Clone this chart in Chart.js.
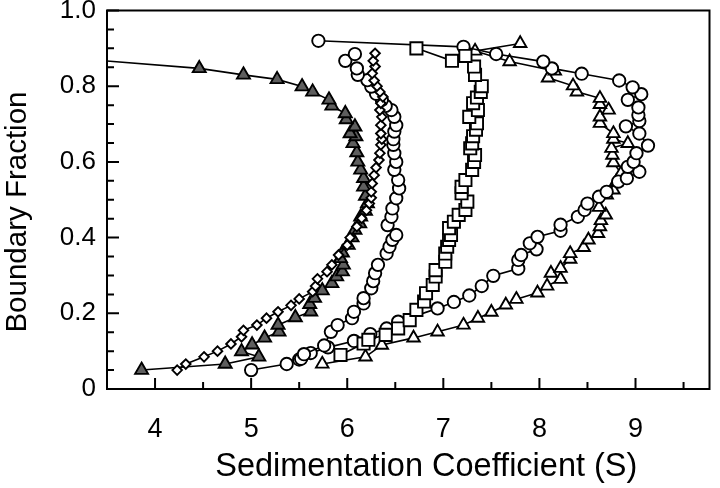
<!DOCTYPE html>
<html><head><meta charset="utf-8">
<script src="https://cdn.jsdelivr.net/npm/chart.js@4/dist/chart.umd.min.js"></script>
<style>html,body{margin:0;padding:0;background:#fff}#c{display:block}</style>
</head><body>
<canvas id="c" width="720" height="488"></canvas>
<script>
// Tick values
const xMajorTicks = [4, 5, 6, 7, 8, 9];
const xMinorTicks = [4.5, 5.5, 6.5, 7.5, 8.5, 9.5];
const yMajorTicks = [0, 0.2, 0.4, 0.6, 0.8, 1.0];
const yMinorTicks = [0.05, 0.1, 0.15, 0.25, 0.3, 0.35, 0.45, 0.5, 0.55, 0.65, 0.7, 0.75, 0.85, 0.9, 0.95];

// Series: filled gray triangles
const fillTriX = [3.86,4.73,5.08,4.90,5.01,5.14,5.29,5.28,5.46,5.62,5.61,5.66,5.74,5.84,5.89,5.95,5.96,5.93,5.95,6.01,6.05,6.08,6.13,6.14,6.19,6.21,6.19,6.17,6.17,6.14,6.11,6.10,6.06,6.09,6.03,6.08,5.99,5.98,5.84,5.81,5.64,5.53,5.27,4.92,4.46,3.00];
const fillTriY = [0.05,0.066,0.085,0.099,0.117,0.135,0.151,0.169,0.189,0.204,0.224,0.24,0.26,0.279,0.297,0.31,0.328,0.345,0.36,0.38,0.40,0.42,0.437,0.455,0.47,0.49,0.51,0.534,0.557,0.579,0.60,0.625,0.649,0.667,0.675,0.693,0.712,0.728,0.748,0.764,0.785,0.799,0.818,0.83,0.847,0.877];

// Series: open diamonds
const diamondX = [4.23,4.32,4.51,4.65,4.79,4.90,4.92,5.06,5.16,5.28,5.415,5.50,5.64,5.67,5.69,5.79,5.84,5.91,6.00,6.03,6.10,6.15,6.20,6.23,6.25,6.25,6.26,6.28,6.30,6.33,6.34,6.35,6.36,6.35,6.35,6.36,6.34,6.35,6.37,6.34,6.31,6.28,6.26,6.29,6.27,6.29];
const diamondY = [0.05,0.066,0.085,0.10,0.119,0.138,0.155,0.169,0.187,0.204,0.221,0.238,0.257,0.272,0.291,0.31,0.328,0.354,0.38,0.40,0.429,0.451,0.472,0.49,0.505,0.521,0.543,0.565,0.585,0.605,0.623,0.645,0.66,0.675,0.697,0.719,0.737,0.755,0.772,0.785,0.80,0.815,0.834,0.852,0.867,0.887];

// Series: open circles (inner curve)
const circleAX = [5.52,5.55,5.76,5.83,5.90,6.05,6.07,6.17,6.17,6.25,6.27,6.29,6.32,6.41,6.44,6.47,6.51,6.42,6.46,6.47,6.51,6.54,6.53,6.49,6.51,6.49,6.48,6.48,6.49,6.51,6.49,6.46,6.40,6.36,6.30,6.25,6.21,6.11,6.10,5.98,6.08];
const circleAY = [0.08,0.092,0.115,0.151,0.169,0.187,0.204,0.226,0.24,0.266,0.285,0.306,0.328,0.358,0.376,0.394,0.407,0.433,0.455,0.477,0.504,0.53,0.552,0.579,0.60,0.623,0.645,0.66,0.68,0.697,0.719,0.737,0.748,0.764,0.78,0.799,0.816,0.83,0.847,0.867,0.885];

// Series: open squares
const squareX = [5.93,6.17,6.22,6.40,6.53,6.65,6.72,6.80,6.82,6.89,6.92,6.92,7.02,7.02,7.04,7.06,7.08,7.06,7.11,7.16,7.23,7.25,7.19,7.19,7.23,7.30,7.32,7.33,7.28,7.30,7.31,7.34,7.35,7.27,7.36,7.31,7.35,7.39,7.40,7.33,7.32,7.23,7.09,6.72];
const squareY = [0.09,0.12,0.13,0.143,0.16,0.182,0.209,0.231,0.253,0.275,0.297,0.314,0.336,0.358,0.376,0.394,0.407,0.425,0.442,0.46,0.473,0.495,0.517,0.534,0.552,0.579,0.60,0.618,0.636,0.649,0.668,0.685,0.702,0.719,0.737,0.755,0.77,0.785,0.80,0.83,0.852,0.88,0.867,0.90];

// Series: open circles (outer curve)
const circleBX = [5.00,5.37,5.50,5.62,5.80,6.07,6.24,6.41,6.53,6.94,7.11,7.27,7.40,7.52,7.78,7.78,7.81,7.97,7.90,7.98,8.22,8.22,8.40,8.47,8.50,8.62,8.70,8.82,8.91,9.04,8.92,8.98,9.01,9.13,9.04,8.90,9.04,9.03,9.03,8.92,9.06,8.97,8.83,8.44,8.13,8.04,7.55,7.21,5.70];
const circleBY = [0.05,0.066,0.078,0.095,0.11,0.127,0.145,0.16,0.178,0.213,0.23,0.247,0.272,0.299,0.318,0.341,0.354,0.369,0.385,0.402,0.418,0.434,0.455,0.473,0.49,0.508,0.521,0.548,0.557,0.574,0.587,0.60,0.623,0.643,0.675,0.694,0.708,0.724,0.744,0.764,0.779,0.797,0.815,0.833,0.847,0.865,0.885,0.904,0.92];

// Series: open triangles
const openTriX = [5.74,6.19,6.36,6.69,6.94,7.21,7.36,7.50,7.65,7.76,7.98,8.08,8.22,8.12,8.22,8.32,8.32,8.46,8.51,8.61,8.63,8.64,8.69,8.62,8.70,8.77,8.80,8.85,8.77,8.76,8.75,8.92,8.77,8.77,8.63,8.63,8.72,8.63,8.63,8.39,8.35,8.09,8.16,7.69,7.33,7.80];
const openTriY = [0.066,0.085,0.116,0.135,0.151,0.169,0.187,0.203,0.222,0.237,0.254,0.272,0.29,0.306,0.319,0.343,0.358,0.374,0.394,0.411,0.429,0.445,0.46,0.48,0.513,0.526,0.548,0.57,0.598,0.618,0.636,0.649,0.66,0.675,0.702,0.719,0.737,0.752,0.768,0.785,0.801,0.822,0.84,0.865,0.893,0.913];

const pts = (xs, ys) => xs.map((x, i) => ({x, y: ys[i]}));

function ds(xs, ys, style, radius, fill) {
  return {
    data: pts(xs, ys),
    showLine: true,
    borderColor: '#000',
    borderWidth: 1.6,
    pointStyle: style,
    pointRadius: radius,
    pointHoverRadius: radius,
    pointBorderWidth: 1.9,
    pointBorderColor: '#000',
    pointBackgroundColor: fill,
    backgroundColor: fill,
    fill: false,
    tension: 0
  };
}

const framePlugin = {
  id: 'frame',
  afterDraw(chart) {
    const {ctx, chartArea: a, scales: {x, y}} = chart;
    ctx.save();
    ctx.strokeStyle = '#000';
    ctx.lineWidth = 2;
    ctx.strokeRect(a.left, a.top, a.right - a.left, a.bottom - a.top);
    ctx.beginPath();
    xMajorTicks.forEach(v => { const p = x.getPixelForValue(v); ctx.moveTo(p, a.bottom); ctx.lineTo(p, a.bottom - 11); });
    xMinorTicks.forEach(v => { const p = x.getPixelForValue(v); ctx.moveTo(p, a.bottom); ctx.lineTo(p, a.bottom - 7); });
    yMajorTicks.forEach(v => { const p = y.getPixelForValue(v); ctx.moveTo(a.left, p); ctx.lineTo(a.left + 12, p); });
    yMinorTicks.forEach(v => { const p = y.getPixelForValue(v); ctx.moveTo(a.left, p); ctx.lineTo(a.left + 7, p); });
    ctx.stroke();
    ctx.restore();
  }
};

Chart.defaults.font.family = "'Liberation Sans', Arial, sans-serif";
Chart.defaults.color = '#000';

new Chart(document.getElementById('c'), {
  type: 'scatter',
  data: {
    datasets: [
      ds(diamondX, diamondY, 'rectRot', 4.8, '#fff'),
      ds(fillTriX, fillTriY, 'triangle', 7.5, '#5e5e5e'),
      ds(circleAX, circleAY, 'circle', 6.2, '#fff'),
      ds(squareX, squareY, 'rect', 8.6, '#fff'),
      ds(circleBX, circleBY, 'circle', 6.2, '#fff'),
      ds(openTriX, openTriY, 'triangle', 7.2, '#fff')
    ]
  },
  options: {
    responsive: false,
    animation: false,
    devicePixelRatio: 1,
    events: [],
    layout: {padding: {top: 10, right: 3, bottom: 0, left: 0}},
    plugins: {legend: {display: false}, tooltip: {enabled: false}},
    scales: {
      x: {
        type: 'linear', min: 3.5, max: 9.77,
        afterBuildTicks: s => { s.ticks = xMajorTicks.map(v => ({value: v})); },
        afterFit: s => { s.height = 99; s.paddingLeft = 0; s.paddingRight = 0; },
        grid: {display: false, drawTicks: false},
        border: {display: false},
        ticks: {padding: 24, maxRotation: 0, font: {size: 27}, color: '#000', callback: v => String(v)},
        title: {display: true, text: '    Sedimentation Coefficient (S)', font: {size: 32.5}, color: '#000', padding: {top: 0, bottom: 1}}
      },
      y: {
        type: 'linear', min: 0, max: 1,
        afterBuildTicks: s => { s.ticks = yMajorTicks.map(v => ({value: v})); },
        afterFit: s => { s.width = 107; s.paddingTop = 0; s.paddingBottom = 0; },
        grid: {display: false, drawTicks: false},
        border: {display: false},
        ticks: {padding: 11, font: {size: 26}, color: '#000', callback: v => (v === 0 ? '0' : v.toFixed(1))},
        title: {display: true, text: 'Boundary Fraction   ', font: {size: 29.5}, color: '#000', padding: {top: 0, bottom: 0}}
      }
    }
  },
  plugins: [framePlugin]
});
</script>
</body></html>
